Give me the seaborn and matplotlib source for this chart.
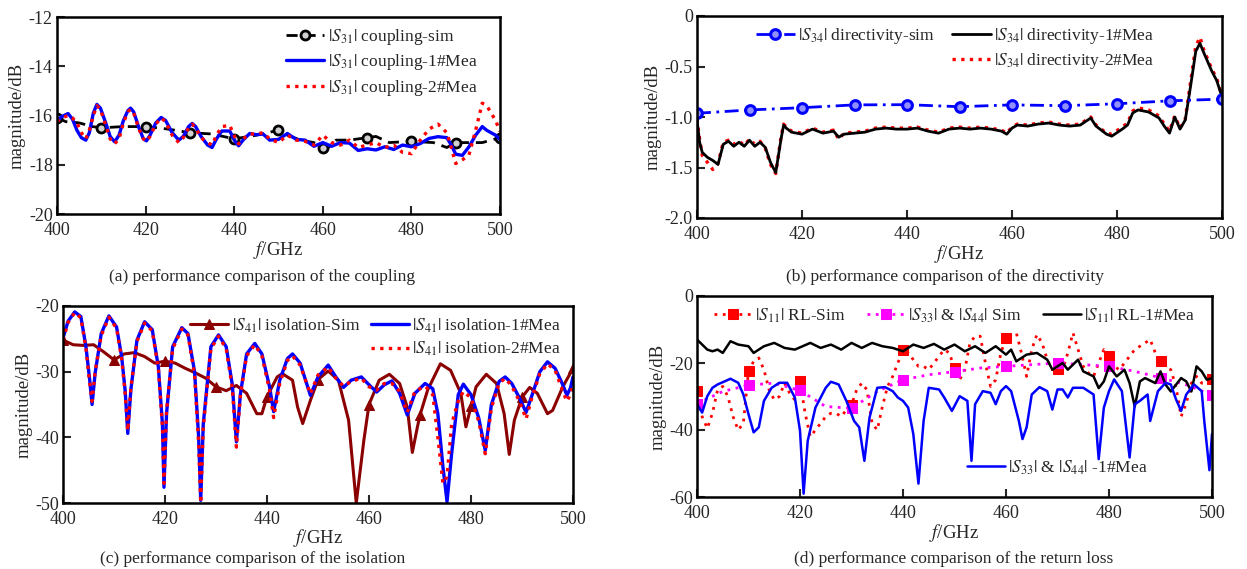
import matplotlib
matplotlib.use("Agg")
import matplotlib.pyplot as plt
import seaborn as sns
from matplotlib.lines import Line2D

# ---------------- (a) coupling |S31| ----------------
a_sim_f = [400, 402, 405, 408, 410, 415, 420, 425, 430, 435, 440, 445, 450, 452, 455, 458,
           460, 461, 463, 466, 470, 472, 475, 480, 485, 488, 490, 492, 496, 498, 500]
a_sim = [-16.1, -16.25, -16.3, -16.45, -16.5, -16.45, -16.45, -16.55, -16.7, -16.75, -16.95,
         -16.8, -16.6, -16.8, -17.0, -17.1, -17.3, -17.35, -17.0, -17.0, -16.9, -16.85, -17.1,
         -17.05, -17.1, -17.3, -17.1, -17.1, -17.1, -17.0, -16.9]
a_mea_f = [400, 401, 402.5, 403.5, 404.5, 405.5, 406.5, 407.3, 408.2, 409, 409.8, 411, 412,
           413, 414, 415, 416, 416.6, 417.3, 418.5, 419.5, 420.2, 421, 422.3, 423.5, 424.5,
           426, 427.5, 428.5, 429.7, 430.5, 431.3, 432.5, 434, 435, 436, 437.2, 439, 440.2,
           441, 442, 443.5, 445, 446.5, 448, 450, 452, 454, 456, 458, 460, 462, 464, 466, 468,
           470, 472, 474, 476, 478, 480, 482, 484, 486, 488, 489, 490, 491.5, 493, 494.5, 496,
           497, 499, 500]
a_mea1 = [-16.25, -16.05, -15.92, -16.15, -16.6, -16.9, -17.0, -16.7, -15.9, -15.55, -15.7,
          -16.3, -16.85, -17.07, -16.8, -16.2, -15.8, -15.7, -15.85, -16.5, -16.95, -17.03,
          -16.8, -16.3, -16.08, -16.2, -16.7, -17.0, -16.85, -16.45, -16.32, -16.45, -16.85,
          -17.2, -17.3, -16.95, -16.63, -16.63, -17.05, -17.23, -17.0, -16.73, -16.78, -16.75,
          -17.0, -16.97, -16.73, -16.97, -17.0, -17.25, -17.1, -17.25, -17.1, -17.12, -17.42,
          -17.35, -17.4, -17.27, -17.38, -17.2, -17.27, -17.14, -16.93, -16.86, -16.9, -17.2,
          -17.57, -17.62, -17.27, -16.8, -16.45, -16.6, -16.8, -16.97]
a_mea2 = [-16.25, -16.1, -16.0, -16.1, -16.3, -16.7, -16.95, -16.6, -16.0, -15.6, -15.75,
          -16.4, -16.95, -17.15, -16.95, -16.3, -15.85, -15.75, -15.9, -16.55, -16.95, -17.05,
          -16.85, -16.35, -16.1, -16.25, -16.8, -17.1, -16.9, -16.5, -16.35, -16.5, -16.9,
          -17.1, -17.2, -16.8, -16.45, -16.4, -16.9, -17.15, -16.95, -16.75, -16.75, -16.7,
          -16.95, -17.1, -16.8, -17.0, -17.05, -17.2, -16.8, -17.1, -17.2, -17.0, -17.3, -17.2,
          -17.1, -17.3, -17.2, -17.5, -17.55, -17.0, -16.55, -16.35, -16.7, -17.3, -17.95,
          -17.8, -17.6, -16.6, -15.5, -15.6, -16.2, -16.65]

# ---------------- (b) directivity |S34| ----------------
b_sim_f = [400, 410, 420, 430, 440, 450, 460, 470, 480, 490, 500]
b_sim = [-0.963, -0.93, -0.908, -0.88, -0.878, -0.898, -0.88, -0.888, -0.869, -0.84, -0.823]
b_mea_f = [400, 400.5, 401, 402, 403, 404, 405, 406, 407, 408, 409, 410, 411, 412, 413, 414,
           415, 416, 416.5, 417, 418, 420, 422, 424, 426, 427, 428, 430, 432, 434, 436, 438,
           440, 442, 444, 446, 448, 450, 452, 454, 456, 458, 459, 460, 461, 463, 465, 467, 469,
           471, 473, 475, 476, 478, 479, 481, 482, 483, 484, 486, 488, 489, 490, 491, 492, 493,
           494, 495, 495.8, 496.5, 498, 499, 500]
b_mea1 = [-1.03, -1.25, -1.35, -1.40, -1.43, -1.47, -1.27, -1.24, -1.29, -1.25, -1.29, -1.23,
          -1.29, -1.25, -1.30, -1.45, -1.55, -1.22, -1.08, -1.11, -1.15, -1.17, -1.12, -1.16,
          -1.14, -1.20, -1.17, -1.16, -1.15, -1.12, -1.11, -1.12, -1.12, -1.11, -1.14, -1.16,
          -1.12, -1.11, -1.12, -1.11, -1.12, -1.14, -1.17, -1.11, -1.08, -1.09, -1.07, -1.06,
          -1.08, -1.09, -1.08, -1.01, -1.09, -1.17, -1.19, -1.12, -1.08, -0.96, -0.93, -0.95,
          -1.01, -1.09, -1.16, -1.00, -1.12, -1.03, -0.70, -0.35, -0.27, -0.36, -0.54, -0.64,
          -0.80]
b_mea2 = [-1.02, -1.22, -1.38, -1.45, -1.52, -1.46, -1.25, -1.23, -1.27, -1.24, -1.28, -1.22,
          -1.27, -1.24, -1.31, -1.47, -1.56, -1.20, -1.07, -1.10, -1.14, -1.16, -1.11, -1.15,
          -1.13, -1.22, -1.16, -1.15, -1.14, -1.11, -1.10, -1.11, -1.11, -1.10, -1.13, -1.15,
          -1.11, -1.10, -1.11, -1.10, -1.11, -1.13, -1.16, -1.10, -1.07, -1.08, -1.06, -1.05,
          -1.07, -1.08, -1.07, -1.00, -1.08, -1.16, -1.17, -1.10, -1.06, -0.94, -0.91, -0.93,
          -0.99, -1.07, -1.14, -0.99, -1.11, -1.02, -0.66, -0.30, -0.21, -0.33, -0.52, -0.62,
          -0.79]

# ---------------- (c) isolation |S41| ----------------
c_sim_f = [400, 402, 404, 406, 408, 410, 412, 414, 416, 418, 420, 422, 424, 426, 428, 430,
           432, 434, 436, 438, 439, 440, 442, 443, 445, 446, 447, 448.5, 450, 452, 454, 456,
           457.5, 459, 460, 462, 464, 466, 467.5, 468.5, 469.5, 470, 471.5, 474, 476, 478, 479,
           480, 481, 483, 485, 486.5, 487.5, 488.5, 490, 491.5, 493, 495, 496, 498, 500]
c_sim = [-25.2, -25.9, -26.0, -25.9, -27.0, -28.2, -27.3, -27.1, -27.7, -28.7, -28.4, -28.7,
         -29.5, -30.2, -31.0, -32.3, -32.9, -32.1, -33.3, -36.4, -36.4, -33.8, -30.8, -30.3,
         -31.3, -35.4, -37.9, -34.4, -31.2, -29.9, -31.3, -37.4, -50.0, -40.4, -35.0, -31.3,
         -30.4, -31.8, -35.4, -42.3, -38.4, -36.6, -32.8, -28.8, -29.8, -33.3, -38.4, -35.3,
         -32.3, -30.4, -31.8, -36.4, -42.6, -37.4, -33.9, -32.4, -33.3, -36.4, -35.9, -32.3,
         -29.5]
c_mea_f = [400, 401, 402.3, 403.5, 404.5, 405.2, 405.7, 406.3, 407.5, 409, 410.5, 411.5,
           412.2, 412.7, 413.3, 414.5, 416, 417.5, 418.7, 419.5, 419.8, 420.3, 421.5, 423.3,
           424.5, 425.8, 426.6, 427, 427.5, 429, 430.5, 432, 433.2, 434, 434.8, 436, 437.6, 439,
           440.5, 441.3, 442.5, 444, 445, 446.5, 448.5, 450, 452, 453.5, 455, 456.5, 458.5, 460,
           461.5, 463, 464.5, 466, 467.5, 469, 471, 472.5, 473.5, 474.5, 475.3, 476.2, 477.5,
           478.5, 480, 481.5, 482.8, 484, 485.5, 486.7, 488, 489.5, 490.8, 492, 493.5, 495,
           496.5, 498, 498.8, 499.5, 500]
c_mea1 = [-24.9, -22.3, -20.9, -21.6, -26.2, -31.0, -35.0, -30.2, -24.2, -21.5, -23.2, -27.7,
          -33.0, -39.4, -32.8, -25.2, -22.4, -23.6, -29.3, -38.0, -47.6, -36.4, -26.2, -23.3,
          -24.2, -30.0, -40.0, -49.6, -38.0, -26.2, -24.4, -26.2, -32.0, -40.7, -33.3, -27.3,
          -25.7, -27.3, -32.3, -36.1, -31.3, -28.0, -27.3, -28.7, -33.6, -30.8, -29.0, -30.8,
          -32.4, -31.3, -30.8, -32.0, -33.1, -32.0, -31.4, -33.3, -36.6, -33.3, -31.8, -32.6,
          -36.4, -44.5, -49.8, -42.5, -33.5, -31.9, -33.5, -37.0, -42.0, -35.0, -31.5, -30.8,
          -31.8, -34.0, -36.2, -33.5, -30.0, -28.5, -29.5, -32.0, -33.6, -32.5, -30.8]
c_mea2 = [-25.2, -22.5, -21.0, -21.8, -26.5, -31.5, -34.5, -30.0, -24.5, -21.7, -23.4, -28.0,
          -33.5, -39.0, -32.5, -25.4, -22.6, -23.8, -29.5, -38.5, -47.0, -36.0, -26.5, -23.5,
          -24.4, -30.5, -41.0, -50.0, -38.5, -26.5, -24.6, -26.5, -32.5, -41.5, -33.5, -27.6,
          -25.9, -27.6, -32.8, -37.0, -31.8, -28.3, -27.6, -29.0, -33.4, -30.5, -29.3, -31.0,
          -32.2, -31.5, -31.0, -32.3, -32.8, -31.8, -31.8, -33.0, -36.2, -33.0, -32.2, -33.5,
          -40.0, -47.0, -46.0, -38.0, -34.5, -33.0, -34.0, -37.5, -42.5, -35.5, -31.8, -31.0,
          -32.2, -34.5, -37.2, -33.8, -30.3, -28.8, -29.8, -33.0, -34.5, -33.5, -32.0]

# ---------------- (d) return loss ----------------
d_rl_sim_f = list(range(400, 501))
d_rl_sim = [-28.4, -36, -39.5, -35, -28, -27, -30, -36, -40, -38,
            -22.4, -19.5, -18.5, -22, -28, -31, -30, -26, -29, -31,
            -25.4, -35, -42, -40, -38, -36, -35, -35, -36, -34,
            -32.5, -28, -26, -28, -38, -40, -33, -27, -24, -20,
            -16.2, -17, -19, -21, -21, -22, -20, -18, -16, -17,
            -21.6, -25, -22, -14, -12, -12, -20, -27, -25, -17,
            -12.5, -11.5, -11, -17, -24, -16, -11.5, -14, -19, -22,
            -21.9, -22, -17, -11, -16, -21, -23, -24, -20, -16,
            -18, -21, -22, -20, -18, -16, -15, -14, -13, -17,
            -19.3, -21, -22, -27, -36, -32, -26, -24, -26, -26,
            -24.7]
d_port_sim_f = [400, 405, 410, 415, 420, 425, 430, 435, 440, 445, 450, 455, 460, 465, 470,
                475, 480, 485, 490, 495, 500]
d_port_sim = [-32.1, -28.5, -26.6, -26.0, -28.2, -33.0, -33.5, -28.5, -25.0, -23.5, -22.6,
              -21.5, -21.0, -20.5, -20.0, -20.5, -21.0, -22.5, -24.4, -26.5, -29.6]
d_rl_mea_f = [400, 402, 403, 404, 405, 406.5, 408, 410, 411, 413, 415, 417, 419, 422, 424, 426,
              428, 430, 432, 434, 436, 438, 440, 442, 444, 446, 448, 450, 452, 454, 456, 458,
              460, 461, 462, 464, 466, 468, 469, 471, 472, 474, 475, 477, 478, 479, 480, 481.5,
              483, 484, 485, 486, 487, 489, 490, 491, 492, 494, 495, 496, 497, 498, 499, 500]
d_rl_mea = [-13.0, -16.0, -16.5, -16.0, -17.0, -13.5, -14.5, -15.0, -17.0, -15.0, -14.0,
            -15.5, -16.0, -14.0, -15.5, -14.5, -16.0, -14.0, -15.5, -14.0, -15.0, -15.5, -16.5,
            -14.5, -15.5, -14.3, -16.0, -14.5, -16.5, -15.0, -17.0, -15.0, -17.5, -16.0, -19.5,
            -17.5, -17.0, -19.0, -22.0, -20.0, -22.0, -19.0, -22.5, -24.0, -27.5, -25.5, -21.0,
            -24.0, -22.0, -26.0, -33.0, -25.5, -24.5, -26.0, -22.5, -26.5, -28.5, -24.5, -25.5,
            -28.5, -21.0, -22.5, -25.0, -24.5]
d_port_mea_f = [400, 401, 402, 403, 404, 405.5, 406.5, 408, 409, 410, 411, 412, 413, 414.5,
                416, 417.5, 419, 420, 420.7, 421.5, 423, 425, 426, 427.5, 429, 430.5, 431.5,
                432.5, 433.5, 435, 436.5, 438, 439, 440, 441, 442, 443, 444, 445, 447, 448,
                449.5, 451, 452.5, 453.3, 454, 455.5, 457, 458, 459, 460, 461, 462.5, 463.2,
                464, 465, 466.5, 468, 469, 470, 471, 472, 473, 475, 477, 478, 479, 480, 481,
                482.5, 484, 485, 486, 487.5, 488, 489.5, 491, 492, 493, 494, 495, 496.5, 498,
                498.5, 499.5, 500]
d_port_mea = [-32.3, -34.8, -29.9, -27.4, -26.4, -25.4, -24.7, -25.9, -29.4, -35.3, -40.7,
              -39.2, -31.3, -27.4, -25.9, -25.9, -30.3, -40.2, -59.0, -43.2, -33.3, -27.4,
              -25.6, -26.4, -31.3, -37.3, -39.2, -49.2, -36.3, -27.4, -27.2, -28.4, -30.3,
              -31.3, -33.3, -41.2, -56.0, -37.3, -27.4, -27.9, -30.3, -34.3, -29.9, -31.3,
              -49.2, -32.3, -28.4, -28.9, -32.3, -28.4, -26.9, -28.4, -37.3, -42.7, -39.2,
              -29.4, -27.2, -28.4, -33.9, -27.9, -27.9, -30.3, -27.4, -27.4, -29.4, -48.7,
              -33.3, -28.4, -24.9, -28.4, -48.2, -32.3, -31.3, -29.4, -37.3, -28.4, -25.9,
              -26.4, -30.8, -34.3, -29.4, -26.4, -28.4, -37.3, -52.0, -41.2]

captions = ["(a) performance comparison of the coupling",
            "(b) performance comparison of the directivity",
            "(c) performance comparison of the isolation",
            "(d) performance comparison of the return loss"]

# ---------------- style ----------------
sns.set_style("ticks")
plt.rcParams['font.family'] = ['Liberation Serif', 'DejaVu Serif']
plt.rcParams['mathtext.fontset'] = 'stix'
plt.rcParams['axes.unicode_minus'] = False
FS = 13.5      # axis labels
TFS = 12.5     # tick labels, legends, captions
BLUE, RED, MAROON, MAGENTA = '#0000ff', '#ff0000', '#8b0000', '#ff00ff'


def tens(fs):
    # indices of the 10 GHz points where the simulation markers sit
    return [i for i, f in enumerate(fs) if f % 10 == 0]


def style_axes(ax, yticks, ylabels):
    ax.set_xlim(400, 500)
    ax.set_xticks(range(400, 501, 20))
    ax.set_ylim(yticks[0], yticks[-1])
    ax.set_yticks(yticks)
    ax.set_yticklabels(ylabels)
    ax.tick_params(labelsize=TFS + 0.5, length=6, width=1.5, direction='in', pad=3)
    ax.tick_params(axis='x', pad=6)
    for s in ax.spines.values():
        s.set_visible(True)
        s.set_linewidth(1.8)
        s.set_color('black')
    ax.set_xlabel('$f$/GHz', fontsize=FS, labelpad=0)
    ax.set_ylabel('magnitude/dB', fontsize=FS, labelpad=2)


blank = Line2D([], [], color='none', label=' ')
leg_kw = dict(frameon=False, fontsize=TFS, handlelength=2.2, labelspacing=0.3,
              handletextpad=0.2, borderpad=0.2)

fig = plt.figure(figsize=(12.47, 5.69), dpi=100)
ax_a = fig.add_axes([57 / 1247, 1 - 214 / 569, 443 / 1247, 197 / 569])
ax_b = fig.add_axes([697 / 1247, 1 - 218 / 569, 525 / 1247, 202 / 569])
ax_c = fig.add_axes([63 / 1247, 1 - 503 / 569, 510 / 1247, 197 / 569])
ax_d = fig.add_axes([697 / 1247, 1 - 497 / 569, 515 / 1247, 201 / 569])

# (a)
sns.lineplot(x=a_sim_f, y=a_sim, ax=ax_a, color='black', lw=2, linestyle=(0, (4, 2.5)),
             marker='o', markevery=tens(a_sim_f), ms=6.5, mfc='#d0d0d0', mec='black', mew=2)
sns.lineplot(x=a_mea_f, y=a_mea1, ax=ax_a, color=BLUE, lw=2.4)
sns.lineplot(x=a_mea_f, y=a_mea2, ax=ax_a, color=RED, lw=2.4, linestyle=(0, (1, 1.6)))
style_axes(ax_a, [-20, -18, -16, -14, -12], ['-20', '-18', '-16', '-14', '-12'])
h = ax_a.get_lines()
ax_a.legend(h[:3], [r'$|S_{31}|$ coupling-sim', r'$|S_{31}|$ coupling-1#Mea',
                    r'$|S_{31}|$ coupling-2#Mea'],
            loc='upper left', bbox_to_anchor=(0.49, 1.01), **leg_kw)

# (b) - measured 2 first so that measured 1 sits on top of it
sns.lineplot(x=b_mea_f, y=b_mea2, ax=ax_b, color=RED, lw=2.4, linestyle=(0, (1, 1.6)))
sns.lineplot(x=b_mea_f, y=b_mea1, ax=ax_b, color='black', lw=2.0)
sns.lineplot(x=b_sim_f, y=b_sim, ax=ax_b, color=BLUE, lw=2, linestyle=(0, (5, 2, 1, 2)),
             marker='o', ms=7, mfc='#9090ff', mec=BLUE, mew=2.2)
style_axes(ax_b, [-2.0, -1.5, -1.0, -0.5, 0], ['-2.0', '-1.5', '-1.0', '-0.5', '0'])
h = ax_b.get_lines()
ax_b.legend([h[2], blank, h[1], h[0]],
            [r'$|S_{34}|$ directivity-sim', ' ', r'$|S_{34}|$ directivity-1#Mea',
             r'$|S_{34}|$ directivity-2#Mea'],
            ncol=2, columnspacing=1.0, loc='upper left', bbox_to_anchor=(0.09, 1.01), **leg_kw)

# (c)
sns.lineplot(x=c_sim_f, y=c_sim, ax=ax_c, color=MAROON, lw=2.2,
             marker='^', markevery=tens(c_sim_f), ms=7, mfc=MAROON, mec=MAROON)
sns.lineplot(x=c_mea_f, y=c_mea1, ax=ax_c, color=BLUE, lw=2.4)
sns.lineplot(x=c_mea_f, y=c_mea2, ax=ax_c, color=RED, lw=2.4, linestyle=(0, (1, 1.6)))
style_axes(ax_c, [-50, -40, -30, -20], ['-50', '-40', '-30', '-20'])
ax_c.xaxis.set_label_coords(0.5, -0.12)
h = ax_c.get_lines()
ax_c.legend([h[0], blank, h[1], h[2]],
            [r'$|S_{41}|$ isolation-Sim', ' ', r'$|S_{41}|$ isolation-1#Mea',
             r'$|S_{41}|$ isolation-2#Mea'],
            ncol=2, columnspacing=0.6, loc='upper right', bbox_to_anchor=(1.0, 1.01), **leg_kw)

# (d)
sns.lineplot(x=d_rl_sim_f, y=d_rl_sim, ax=ax_d, color=RED, lw=2, linestyle=(0, (1, 2)),
             marker='s', markevery=tens(d_rl_sim_f), ms=6.5, mfc=RED, mec=RED)
sns.lineplot(x=d_port_sim_f, y=d_port_sim, ax=ax_d, color=MAGENTA, lw=2, linestyle=(0, (1, 2)),
             marker='s', markevery=tens(d_port_sim_f), ms=6.5, mfc=MAGENTA, mec=MAGENTA)
sns.lineplot(x=d_rl_mea_f, y=d_rl_mea, ax=ax_d, color='black', lw=1.8)
sns.lineplot(x=d_port_mea_f, y=d_port_mea, ax=ax_d, color=BLUE, lw=1.8)
style_axes(ax_d, [-60, -40, -20, 0], ['-60', '-40', '-20', '0'])
h = ax_d.get_lines()
leg1 = ax_d.legend(h[:3], [r'$|S_{11}|$ RL-Sim', r'$|S_{33}|$ & $|S_{44}|$ Sim',
                           r'$|S_{11}|$ RL-1#Mea'],
                   ncol=3, columnspacing=1.2, loc='upper center', bbox_to_anchor=(0.5, 1.01),
                   **leg_kw)
ax_d.add_artist(leg1)
ax_d.legend([h[3]], [r'$|S_{33}|$ & $|S_{44}|$ -1#Mea'], loc='lower left',
            bbox_to_anchor=(0.5, 0.04), **leg_kw)

# captions under each panel
fig.text(262 / 1247, 1 - 277 / 569, captions[0], ha='center', va='center', fontsize=TFS)
fig.text(945 / 1247, 1 - 277 / 569, captions[1], ha='center', va='center', fontsize=TFS)
fig.text(253 / 1247, 1 - 559 / 569, captions[2], ha='center', va='center', fontsize=TFS)
fig.text(954 / 1247, 1 - 559 / 569, captions[3], ha='center', va='center', fontsize=TFS)

fig.savefig('out.png', dpi=100)
